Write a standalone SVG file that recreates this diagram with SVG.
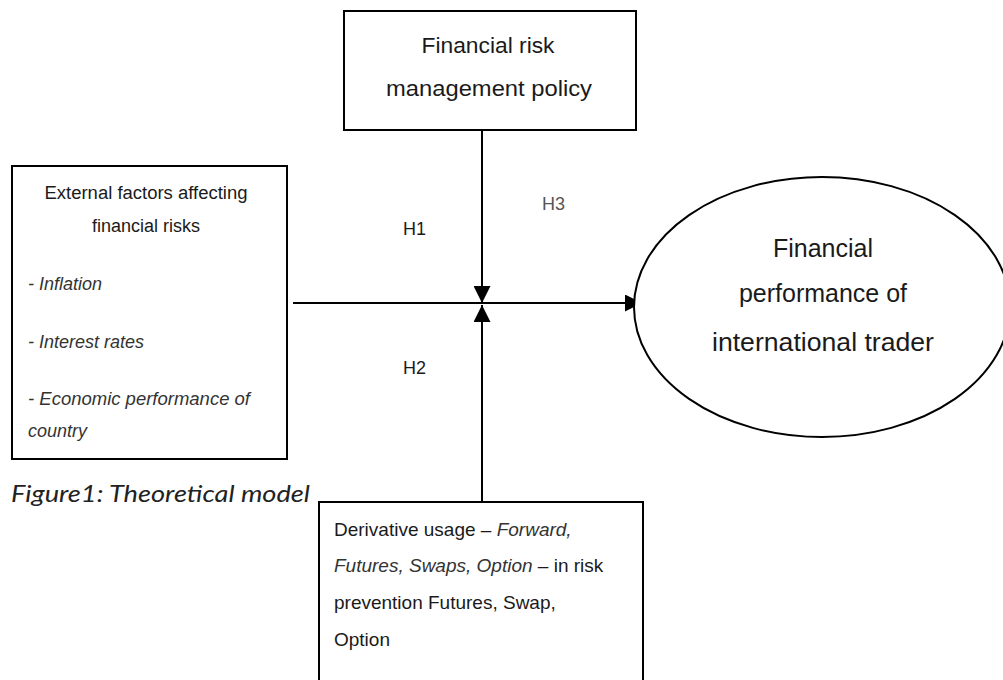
<svg xmlns="http://www.w3.org/2000/svg" width="1003" height="680" viewBox="0 0 1003 680">
<style>
.box{fill:#fff;stroke:#000;stroke-width:2}
.t{font-family:"Liberation Sans",Arial,sans-serif;fill:#1a1a1a}
.it{font-style:italic;fill:#333}
.ln{stroke:#000;stroke-width:2;fill:none}
</style>
<defs>
<marker id="ah2" viewBox="0 0 10 10" refX="10" refY="5" markerWidth="17" markerHeight="17" markerUnits="userSpaceOnUse" orient="auto">
<path d="M0,0 L10,5 L0,10 Z" fill="#000"/>
</marker>
</defs>
<rect width="1003" height="680" fill="#fff"/>
<g id="connectors">
<line class="ln" x1="293" y1="303" x2="642" y2="303" marker-end="url(#ah2)"/>
<line class="ln" x1="482" y1="130" x2="482" y2="303" marker-end="url(#ah2)"/>
<line class="ln" x1="482" y1="502" x2="482" y2="305" marker-end="url(#ah2)"/>
</g>
<g id="policy">
<rect class="box" x="344" y="11" width="292" height="119"/>
<text class="t" x="488" y="53" font-size="22" text-anchor="middle" textLength="133" lengthAdjust="spacingAndGlyphs">Financial risk</text>
<text class="t" x="489" y="96" font-size="22" text-anchor="middle" textLength="206" lengthAdjust="spacingAndGlyphs">management policy</text>
</g>
<g id="external">
<rect class="box" x="12" y="166" width="275" height="293"/>
<text class="t" x="146" y="199" font-size="18" text-anchor="middle" textLength="203" lengthAdjust="spacingAndGlyphs">External factors affecting</text>
<text class="t" x="146" y="232" font-size="18" text-anchor="middle">financial risks</text>
<text class="t it" x="28" y="290" font-size="18">- Inflation</text>
<text class="t it" x="28" y="348" font-size="18">- Interest rates</text>
<text class="t it" x="28" y="405" font-size="18" textLength="222" lengthAdjust="spacingAndGlyphs">- Economic performance of</text>
<text class="t it" x="28" y="437" font-size="18">country</text>
</g>
<g id="performance">
<ellipse cx="822" cy="307" rx="188" ry="130" fill="#fff" stroke="#000" stroke-width="2"/>
<text class="t" x="823" y="257" font-size="25" text-anchor="middle">Financial</text>
<text class="t" x="823" y="302" font-size="25" text-anchor="middle">performance of</text>
<text class="t" x="823" y="351" font-size="25" text-anchor="middle" textLength="222" lengthAdjust="spacingAndGlyphs">international trader</text>
</g>
<g id="derivative">
<rect class="box" x="319" y="502" width="324" height="190"/>
<text class="t" x="334" y="536" font-size="19">Derivative usage – <tspan class="it">Forward,</tspan></text>
<text class="t" x="334" y="572" font-size="19"><tspan class="it">Futures, Swaps, Option</tspan> – in risk</text>
<text class="t" x="334" y="609" font-size="19">prevention Futures, Swap,</text>
<text class="t" x="334" y="646" font-size="19">Option</text>
</g>
<g id="labels">
<text class="t" x="403" y="235" font-size="18">H1</text>
<text class="t" x="403" y="374" font-size="18">H2</text>
<text class="t" x="542" y="210" font-size="18" style="fill:#555">H3</text>
</g>
<g id="caption">
<text x="11" y="502" font-family="Lato,'Noto Sans',sans-serif" font-style="italic" font-size="23" fill="#222" textLength="299" lengthAdjust="spacingAndGlyphs">Figure1: Theoretical model</text>
</g>
</svg>
